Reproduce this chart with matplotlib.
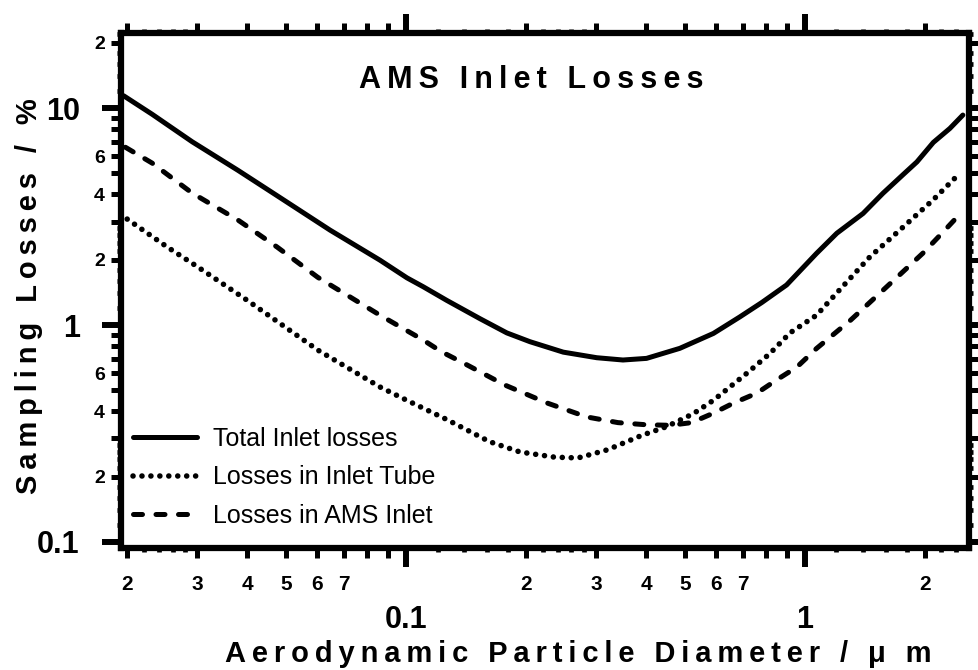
import numpy as np
import matplotlib
matplotlib.use('Agg')
import matplotlib.pyplot as plt
from matplotlib.ticker import LogLocator, FuncFormatter, NullFormatter, NullLocator

plt.rcParams['font.family'] = ['Liberation Sans', 'DejaVu Sans']
plt.rcParams['font.weight'] = 'bold'

# Total inlet losses
d_total = [0.0196, 0.0231, 0.0291, 0.0379, 0.0475, 0.0645, 0.0861, 0.1006, 0.1106,
           0.1265, 0.1533, 0.179, 0.2046, 0.248, 0.3008, 0.350, 0.401, 0.486, 0.590,
           0.687, 0.78, 0.900, 1.07, 1.203, 1.40, 1.57, 1.766, 1.91, 2.10, 2.31, 2.49]
loss_total = [11.4, 9.37, 7.0, 5.17, 3.95, 2.74, 1.99, 1.65, 1.50,
              1.30, 1.07, 0.92, 0.838, 0.75, 0.707, 0.69, 0.702, 0.781, 0.915,
              1.09, 1.27, 1.53, 2.14, 2.65, 3.27, 4.05, 4.95, 5.65, 6.95, 8.06, 9.29]

# losses in inlet tube
d_tube = [0.0200, 0.0252, 0.0301, 0.0400, 0.0601, 0.0861, 0.1002, 0.1265, 0.162,
          0.193, 0.236, 0.27, 0.32, 0.39, 0.45, 0.525, 0.590, 0.716, 0.818, 0.918,
          1.07, 1.20, 1.455, 1.73, 2.095, 2.42]
loss_tube = [3.08, 2.29, 1.85, 1.30, 0.767, 0.518, 0.451, 0.367, 0.29,
             0.26, 0.246, 0.244, 0.266, 0.31, 0.34, 0.39, 0.45, 0.60, 0.74, 0.92,
             1.11, 1.40, 2.06, 2.74, 3.77, 4.91]

# losses in AMS inlet
d_ams = [0.0198, 0.0231, 0.0291, 0.0379, 0.0475, 0.0601, 0.0861, 0.110, 0.1228,
         0.139, 0.177, 0.226, 0.284, 0.34, 0.40, 0.46, 0.52, 0.589, 0.661, 0.759,
         0.849, 0.955, 1.07, 1.30, 1.54, 1.75, 1.98, 2.22, 2.46]
loss_ams = [6.6, 5.58, 4.06, 3.05, 2.29, 1.66, 1.11, 0.857, 0.753,
            0.67, 0.529, 0.437, 0.377, 0.355, 0.347, 0.345, 0.355, 0.392, 0.436, 0.486,
            0.558, 0.64, 0.78, 1.05, 1.40, 1.74, 2.15, 2.68, 3.28]

labels = ['Total Inlet losses', 'Losses in Inlet Tube', 'Losses in AMS Inlet']
x_minor_shown = [2, 3, 4, 5, 6, 7]
y_minor_shown = [2, 4, 6]
sub_minor = (1.2, 1.4, 1.6, 1.8, 2.2, 2.4, 2.6, 2.8)


def spaced(s):
    return '\u2009'.join(s)


def mant(v):
    e = np.floor(np.log10(v) + 1e-9)
    return int(round(v / 10 ** e))


fig = plt.figure(figsize=(9.79, 6.70), dpi=100)
ax = fig.add_axes([121 / 979, 1 - 548 / 670, 848 / 979, 515 / 670])
ax.set_xscale('log')
ax.set_yscale('log')
ax.set_xlim(0.0193, 2.58)
ax.set_ylim(0.0938, 22.2)

ax.plot(d_total, loss_total, color='black', lw=3.6, solid_capstyle='round',
        solid_joinstyle='round', label=labels[0])
ax.plot(d_tube, loss_tube, color='black', lw=4.0, linestyle=(0, (0.01, 1.6)),
        dash_capstyle='round', label=labels[1])
ax.plot(d_ams, loss_ams, color='black', lw=3.6, linestyle=(0, (1.8, 2.7)),
        dash_capstyle='round', label=labels[2])

for s in ax.spines.values():
    s.set_linewidth(4.5)

for axis, shown in ((ax.xaxis, x_minor_shown), (ax.yaxis, y_minor_shown)):
    axis.set_major_locator(LogLocator(base=10, numticks=10))
    axis.set_major_formatter(FuncFormatter(lambda v, p: f'{v:g}'))
    axis.set_minor_locator(LogLocator(base=10, subs=np.arange(2, 10), numticks=30))
    axis.set_minor_formatter(FuncFormatter(
        lambda v, p, shown=shown: str(mant(v)) if mant(v) in shown else ''))

ax.tick_params(which='major', direction='out', length=13.7, width=4.3,
               labelsize=22, top=True, right=True)
ax.tick_params(which='minor', direction='out', length=7.2, width=3.6,
               labelsize=15, top=True, right=True)
ax.tick_params(axis='x', which='major', pad=27)
ax.tick_params(axis='x', which='minor', pad=12)
ax.tick_params(axis='y', which='major', pad=16)
ax.tick_params(axis='y', which='minor', pad=4.5, labelsize=14)

# small ticks between 1-3 of each decade
for loc in ('bottom', 'top'):
    sec = ax.secondary_xaxis(loc)
    sec.xaxis.set_major_locator(LogLocator(base=10, subs=sub_minor, numticks=30))
    sec.xaxis.set_major_formatter(NullFormatter())
    sec.xaxis.set_minor_locator(NullLocator())
    sec.tick_params(which='major', direction='out', length=3, width=3.4)
    for s in sec.spines.values():
        s.set_visible(False)
for loc in ('left', 'right'):
    sec = ax.secondary_yaxis(loc)
    sec.yaxis.set_major_locator(LogLocator(base=10, subs=sub_minor, numticks=30))
    sec.yaxis.set_major_formatter(NullFormatter())
    sec.yaxis.set_minor_locator(NullLocator())
    sec.tick_params(which='major', direction='out', length=3, width=3.4)
    for s in sec.spines.values():
        s.set_visible(False)

ax.text(0.4835, 0.893, spaced('AMS Inlet Losses'), transform=ax.transAxes,
        ha='center', va='baseline', fontsize=22, fontweight='bold')

ax.set_xlabel(spaced('Aerodynamic Particle Diameter / \u03bc m'), fontsize=21,
              fontweight='bold')
ax.xaxis.set_label_coords(0.539, -0.178)
ax.set_ylabel(spaced('Sampling Losses / %'), fontsize=21, fontweight='bold')
ax.yaxis.set_label_coords(-0.092, 0.49)

ax.legend(loc='lower left', bbox_to_anchor=(0.014, 0.039), frameon=False,
          borderpad=0, borderaxespad=0, handlelength=2.56, handletextpad=0.64,
          labelspacing=0.58, prop={'weight': 'normal', 'size': 18})

fig.savefig('out.png', dpi=100)
